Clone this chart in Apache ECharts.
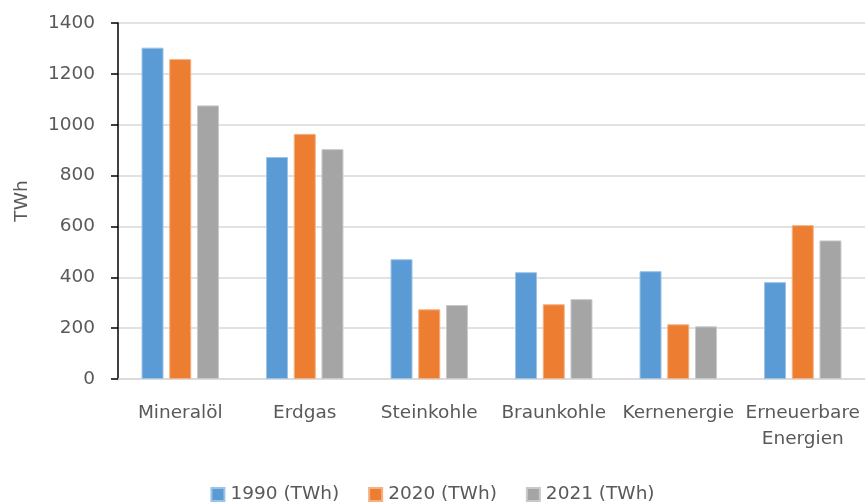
<!DOCTYPE html>
<html>
<head>
<meta charset="utf-8">
<script src="https://cdn.jsdelivr.net/npm/echarts@6/dist/echarts.min.js"></script>
<style>
  html, body { margin: 0; padding: 0; background: #ffffff; }
  #chart { width: 865px; height: 504px; }
</style>
</head>
<body>
<div id="chart"></div>
<script>
// Energy carriers (primary energy consumption, TWh)
const categories = ['Mineralöl', 'Erdgas', 'Steinkohle', 'Braunkohle', 'Kernenergie', 'Erneuerbare\nEnergien'];
const seriesNames = ['1990 (TWh)', '2020 (TWh)', '2021 (TWh)'];
const values1990 = [1303, 873, 471, 420, 424, 381];
const values2020 = [1258, 964, 274, 294, 215, 605];
const values2021 = [1076, 904, 291, 314, 207, 545];
const yTicks = { min: 0, max: 1400, interval: 200 };

const colors = ['#5B9BD5', '#ED7D31', '#A5A5A5'];
const borders = ['#9DC3E6', '#F4B183', '#C9C9C9'];
const FONT = 'DejaVu Sans';
const SIZE = 18.5;
const TEXT = '#595959';

const chart = echarts.init(document.getElementById('chart'), null, { renderer: 'canvas' });

const allValues = [values1990, values2020, values2021];

chart.setOption({
  animation: false,
  backgroundColor: '#ffffff',
  textStyle: { fontFamily: FONT },
  grid: { left: 118, right: 0, top: 23, bottom: 125, containLabel: false },
  legend: {
    bottom: 0,
    left: 'center',
    padding: 0,
    itemWidth: 13,
    itemHeight: 13,
    itemGap: 29,
    icon: 'rect',
    textStyle: { fontFamily: FONT, fontSize: SIZE, color: TEXT, padding: [0, 0, 0, 1] },
    data: seriesNames
  },
  xAxis: {
    type: 'category',
    data: categories,
    axisLine: { show: true, lineStyle: { color: '#D9D9D9', width: 1.5 } },
    axisTick: { show: false },
    axisLabel: {
      interval: 0,
      margin: 21,
      fontFamily: FONT,
      fontSize: SIZE,
      color: TEXT,
      lineHeight: 26,
      align: 'center'
    }
  },
  yAxis: {
    type: 'value',
    min: yTicks.min,
    max: yTicks.max,
    interval: yTicks.interval,
    name: 'TWh',
    nameLocation: 'middle',
    nameGap: 86,
    nameRotate: 90,
    nameTextStyle: { fontFamily: FONT, fontSize: SIZE, color: TEXT },
    axisLine: { show: true, lineStyle: { color: '#000000', width: 1.5 } },
    axisTick: { show: true, length: 7, lineStyle: { color: '#000000', width: 1.5 } },
    axisLabel: {
      margin: 23,
      fontFamily: FONT,
      fontSize: SIZE,
      color: TEXT,
      formatter: (v) => String(v)
    },
    splitLine: { show: true, lineStyle: { color: '#D9D9D9', width: 1.5 } }
  },
  series: seriesNames.map((name, i) => ({
    name: name,
    type: 'bar',
    data: allValues[i],
    barWidth: 22,
    barGap: '26%',
    itemStyle: { color: colors[i], borderColor: borders[i], borderWidth: 1 }
  }))
});
</script>
</body>
</html>
